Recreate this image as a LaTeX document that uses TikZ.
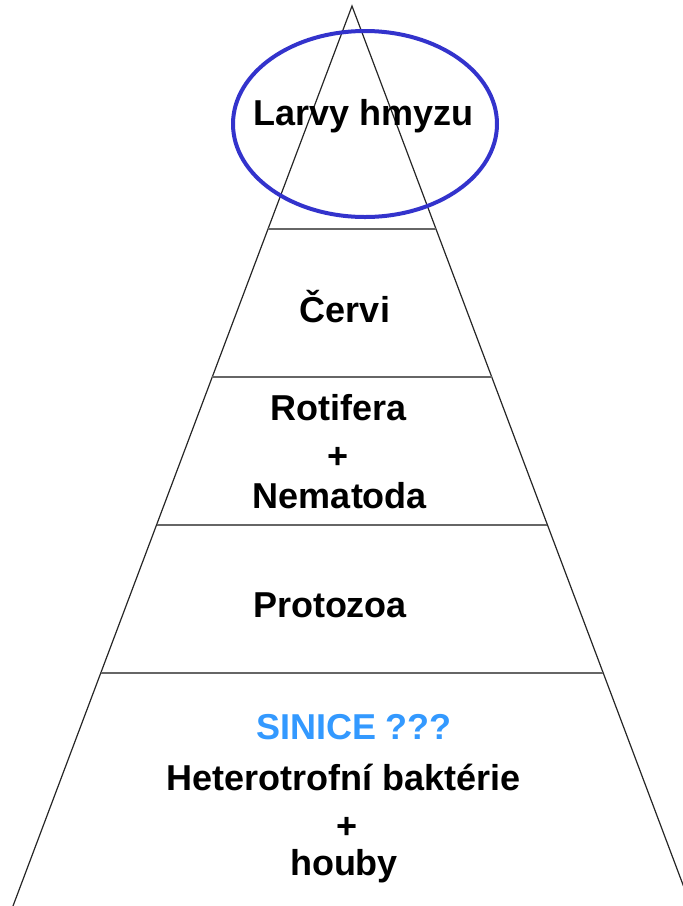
\documentclass[tikz,border=0pt]{standalone}
\usepackage{fontspec}
\setmainfont{Liberation Sans}
\usetikzlibrary{calc}
\begin{document}
\begin{tikzpicture}[x=1pt,y=-1pt,
  lbl/.style={anchor=base,font=\fontsize{36}{40}\selectfont\bfseries,inner sep=0pt},
  edge/.style={line width=1.2pt,black!85},
  tier/.style={line width=1.3pt,black!60}]
\useasboundingbox (0,0) rectangle (683,906);
\clip (0,0) rectangle (683,906);
\coordinate (apex) at (352,6);
\coordinate (bl) at (13,906);
\coordinate (br) at (691,906);
\draw[edge] (bl) -- (apex) -- (br);
% tier lines
\foreach \y in {229,377,525,673}{
  \draw[tier] ($(apex)!{(\y-6)/900}!(bl)$) -- ($(apex)!{(\y-6)/900}!(br)$);
}
\node[lbl] (larvy) at (363.5,125) {Larvy hmyzu};
\draw[line width=4pt,color={rgb,255:red,51;green,51;blue,204}] (365,124) ellipse [x radius=132,y radius=93];
\node[lbl] (cervi) at (345,322) {Červi};
\node[lbl] (rot) at (339,420) {Rotifera};
\node[lbl] (plus1) at (338,468) {+};
\node[lbl] (nem) at (340,508) {Nematoda};
\node[lbl] (proto) at (330,617) {Protozoa};
\node[lbl,text={rgb,255:red,51;green,153;blue,255}] (sinice) at (354,739) {SINICE ???};
\node[lbl] (het) at (344,790) {Heterotrofní baktérie};
\node[lbl] (plus2) at (347,838) {+};
\node[lbl] (houby) at (344,875) {houby};
\end{tikzpicture}
\end{document}
